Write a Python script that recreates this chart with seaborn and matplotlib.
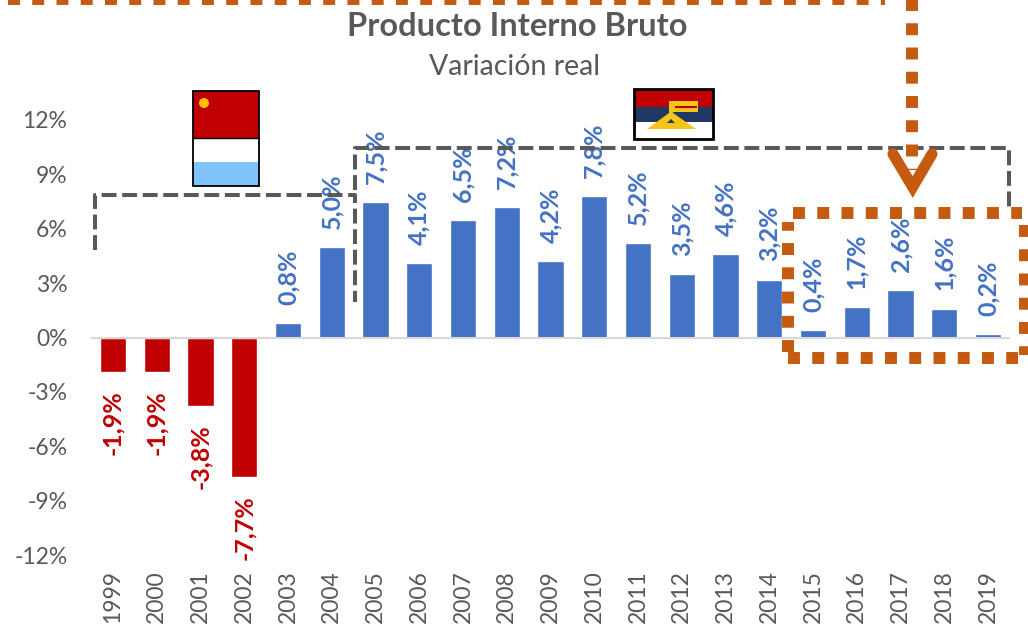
import matplotlib
matplotlib.use("Agg")
import matplotlib.pyplot as plt
from matplotlib.patches import Rectangle, Polygon, Circle
import pandas as pd
import seaborn as sns

years = [str(y) for y in range(1999, 2020)]
pib = [-1.9, -1.9, -3.8, -7.7, 0.8, 5.0, 7.5, 4.1, 6.5, 7.2, 4.2, 7.8, 5.2, 3.5, 4.6, 3.2, 0.4, 1.7, 2.6, 1.6, 0.2]
y_ticks = [-12, -9, -6, -3, 0, 3, 6, 9, 12]
title = "Producto Interno Bruto"
subtitle = "Variación real"

W, H = 1028, 628
GRIS = "#595959"
NARANJA = "#C55A11"
AZUL = "#4472C4"
ROJO = "#C00000"

sns.set_style("white")
plt.rcParams['font.family'] = ['Lato', 'DejaVu Sans']

df = pd.DataFrame({"anio": years, "pib": pib})
df["signo"] = ["neg" if v < 0 else "pos" for v in pib]

fig = plt.figure(figsize=(W / 100, H / 100), dpi=100)

# area del grafico en pixeles: x 91-1010, y 120-555
ax = fig.add_axes([91 / W, 1 - 555 / H, (1010 - 91) / W, (555 - 120) / H])
sns.barplot(data=df, x="anio", y="pib", hue="signo", palette={"neg": ROJO, "pos": AZUL},
            dodge=False, width=0.6, legend=False, saturation=1, ax=ax)
ax.set_xlim(-0.5, len(years) - 0.5)
ax.set_ylim(-12, 12)
ax.axhline(0, color="#D9D9D9", lw=1.5, zorder=1)
sns.despine(ax=ax, left=True, bottom=True, top=True, right=True)
ax.set_xlabel("")
ax.set_ylabel("")
ax.set_yticks(y_ticks)
ax.set_yticklabels([f"{t}%" for t in y_ticks], fontsize=16.5, color=GRIS)
ax.tick_params(axis="y", length=0, pad=17)
ax.tick_params(axis="x", length=0, pad=11, labelrotation=90, labelsize=16.5, labelcolor=GRIS)

# etiquetas de cada barra
for cont in ax.containers:
    vals = [b.get_height() for b in cont]
    if all(pd.isna(v) for v in vals):
        continue
    neg = any(v < 0 for v in vals if not pd.isna(v))
    labels = ["" if pd.isna(v) else f"{v:.1f}%".replace(".", ",") for v in vals]
    ax.bar_label(cont, labels=labels, rotation=90, padding=13, fontsize=18, fontweight="bold",
                 color=ROJO if neg else AZUL)

# capa de anotaciones en pixeles
ov = fig.add_axes([0, 0, 1, 1], facecolor="none")
ov.set_xlim(0, W)
ov.set_ylim(H, 0)
ov.axis("off")

ov.text(517, 27, title, ha="center", va="center", fontsize=23.5, fontweight="bold", color=GRIS)
ov.text(515, 67, subtitle, ha="center", va="center", fontsize=20.5, color=GRIS)

# lineas de trazos grises
gris_ls = (0, (3.7, 1.4))
ov.plot([95, 95, 355, 355], [250, 195, 195, 302], color=GRIS, lw=2.9, ls=gris_ls, dash_capstyle="butt")
ov.plot([355, 355, 1009, 1009], [190, 148, 148, 208], color=GRIS, lw=2.9, ls=gris_ls, dash_capstyle="butt")

# puntos naranjas
nar_ls = (0, (1, 1.03))
def punteada(xs, ys):
    ov.plot(xs, ys, color=NARANJA, lw=8.6, ls=nar_ls, dash_capstyle="butt", clip_on=True)

punteada([8, 885], [-1, -1])
punteada([912, 912], [-2, 170])
punteada([793, 1022], [213, 213])
punteada([1025, 1025], [225, 355])
punteada([788, 1018], [358, 358])
punteada([788, 788], [352, 222])

# punta de flecha
ov.plot([893, 912.7, 932], [154, 187, 154], color=NARANJA, lw=8, solid_joinstyle="miter",
        solid_capstyle="round")

# bandera 1
ov.add_patch(Rectangle((193, 91), 66, 47, fc=ROJO, ec="none"))
ov.add_patch(Rectangle((193, 138), 66, 24, fc="white", ec="none"))
ov.add_patch(Rectangle((193, 162), 66, 24, fc="#7FC4FD", ec="none"))
ov.plot([193, 259], [138, 138], color="black", lw=1)
ov.add_patch(Rectangle((193, 91), 66, 95, fc="none", ec="black", lw=1.3))
ov.add_patch(Circle((204, 103), 5, fc="#FFC000", ec="none"))

# bandera 2
ov.add_patch(Rectangle((634, 89), 79, 18, fc=ROJO, ec="none"))
ov.add_patch(Rectangle((634, 107), 79, 15, fc="#1F3864", ec="none"))
ov.add_patch(Rectangle((634, 122), 79, 17, fc="white", ec="none"))
ov.add_patch(Rectangle((670, 101), 28, 11, fc="#F5C518", ec="none"))
ov.add_patch(Rectangle((675, 105.5), 22, 2, fc=ROJO, ec="none"))
ov.add_patch(Polygon([(647, 129), (669, 113), (669, 101), (673, 101), (673, 113), (696, 129)],
                     closed=True, fc="#F5C518", ec="none"))
ov.add_patch(Polygon([(667, 123), (671, 119), (675, 123)], closed=True, fc="#1F3864", ec="none"))
ov.add_patch(Rectangle((634, 89), 79, 50, fc="none", ec="black", lw=2))

fig.savefig("out.png", dpi=100)
